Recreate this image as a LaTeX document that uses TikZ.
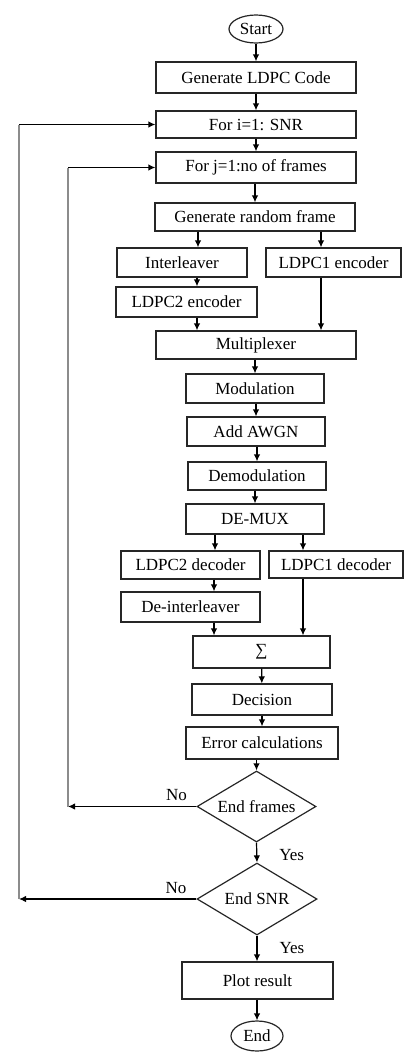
\documentclass[tikz,border=0pt]{standalone}
\usepackage{fontspec}
\setmainfont{Liberation Serif}
\usetikzlibrary{shapes.geometric,arrows.meta}
\begin{document}
\begin{tikzpicture}[x=1pt,y=-1pt,
  txt/.style={font=\fontsize{17}{20}\selectfont},
  procbox/.style={txt,draw=black!85,line width=1.2pt,rectangle,inner sep=0pt},
  termnode/.style={txt,draw=black!85,line width=1.2pt,ellipse,inner sep=0pt},
  decnode/.style={txt,draw=black!85,line width=1.2pt,diamond,inner sep=0pt,shape aspect=1.68},
  flowarr/.style={draw=black,line width=1.2pt,-{Latex[length=7pt,width=6.5pt]}},
  fbline/.style={draw=black!45,line width=1.3pt},
  lbl/.style={txt,inner sep=0pt}
]
\useasboundingbox (0,0) rectangle (404,1052);

% nodes
\node[termnode,minimum width=54pt,minimum height=28pt] (start) at (256,29) {Start};
\node[procbox,minimum width=200pt,minimum height=31pt] (gen) at (256,77.5) {Generate LDPC Code};
\node[procbox,minimum width=200pt,minimum height=27pt] (fori) at (256,124.5) {For i=1: SNR};
\node[procbox,minimum width=200pt,minimum height=31pt] (forj) at (256,167.5) {For j=1:no of frames};
\node[procbox,minimum width=200pt,minimum height=28pt] (grf) at (255,217) {Generate random frame};
\node[procbox,minimum width=130pt,minimum height=29pt] (inter) at (182,262.5) {Interleaver};
\node[procbox,minimum width=135pt,minimum height=29pt] (enc1) at (333.5,262.5) {LDPC1 encoder};
\node[procbox,minimum width=141pt,minimum height=30pt] (enc2) at (186.5,302) {LDPC2 encoder};
\node[procbox,minimum width=200pt,minimum height=28pt] (mux) at (256,345) {Multiplexer};
\node[procbox,minimum width=138pt,minimum height=29pt] (mod) at (255,388.5) {Modulation};
\node[procbox,minimum width=138pt,minimum height=29pt] (awgn) at (256,431.5) {Add AWGN};
\node[procbox,minimum width=138pt,minimum height=28pt] (demod) at (257,476) {Demodulation};
\node[procbox,minimum width=138pt,minimum height=30pt] (demux) at (255,519) {DE-MUX};
\node[procbox,minimum width=139pt,minimum height=28pt] (dec2) at (190.5,565) {LDPC2 decoder};
\node[procbox,minimum width=134pt,minimum height=27pt] (dec1) at (336,564.5) {LDPC1 decoder};
\node[procbox,minimum width=139pt,minimum height=30pt] (deint) at (190.5,607) {De-interleaver};
\node[procbox,minimum width=137pt,minimum height=32pt] (sum) at (261.5,652) {∑};
\node[procbox,minimum width=140pt,minimum height=31pt] (decis) at (262,699.5) {Decision};
\node[procbox,minimum width=152pt,minimum height=32pt] (err) at (262,743) {Error calculations};
\node[decnode,minimum width=119pt,minimum height=71pt] (d1) at (256.5,806.5) {End frames};
\node[decnode,minimum width=120pt,minimum height=72pt] (d2) at (257,899) {End SNR};
\node[procbox,minimum width=151pt,minimum height=37pt] (plot) at (257.5,980.5) {Plot result};
\node[termnode,minimum width=52pt,minimum height=30pt] (end) at (257,1036) {End};

% x positions of connectors
\coordinate (xa) at (198,0);
\coordinate (xb) at (321,0);
\coordinate (xc) at (197,0);
\coordinate (xd) at (215,0);
\coordinate (xe) at (303,0);
\coordinate (xf) at (214,0);
\coordinate (xin) at (68,0);
\coordinate (xout) at (19,0);

% main flow
\draw[flowarr] (start) -- (gen);
\draw[flowarr] (gen) -- (fori);
\draw[flowarr] (fori) -- (forj);
\draw[flowarr] (forj.south -| grf.north) -- (grf.north);
\draw[flowarr] (grf.south -| xa) -- (inter.north -| xa);
\draw[flowarr] (grf.south -| xb) -- (enc1.north -| xb);
\draw[flowarr] (inter.south -| xc) -- (enc2.north -| xc);
\draw[flowarr] (enc2.south -| xc) -- (mux.north -| xc);
\draw[flowarr] (enc1.south -| xb) -- (mux.north -| xb);
\draw[flowarr] (mux.south -| mod.north) -- (mod.north);
\draw[flowarr] (mod.south -| awgn.north) -- (awgn.north);
\draw[flowarr] (awgn.south -| demod.north) -- (demod.north);
\draw[flowarr] (demod.south -| demux.north) -- (demux.north);
\draw[flowarr] (demux.south -| xd) -- (dec2.north -| xd);
\draw[flowarr] (demux.south -| xe) -- (dec1.north -| xe);
\draw[flowarr] (dec2.south -| xf) -- (deint.north -| xf);
\draw[flowarr] (deint.south -| xf) -- (sum.north -| xf);
\draw[flowarr] (dec1.south -| xe) -- (sum.north -| xe);
\draw[flowarr] (sum) -- (decis);
\draw[flowarr] (decis) -- (err);
\draw[flowarr] (err.south -| d1.north) -- (d1.north);
\draw[flowarr] (d1.south) -- node[lbl,midway,right=22pt,yshift=-3pt] {Yes} (d2.north);
\draw[flowarr] (d2.south) -- node[lbl,midway,right=22pt] {Yes} (plot.north -| d2.south);
\draw[flowarr] (plot.south -| end.north) -- (end.north);

% feedback loops
\coordinate (fbin) at (d1.west -| xin);
\coordinate (fbout) at (d2.west -| xout);
\draw[flowarr] (d1.west) -- node[lbl,pos=0.155,above=5pt] {No} (fbin);
\draw[flowarr] (d2.west) -- node[lbl,pos=0.115,above=5pt] {No} (fbout);
\draw[fbline] (fbin) -- (fbin |- forj.west);
\draw[fbline] (fbout) -- (fbout |- fori.west);
\draw[flowarr] (fbin |- forj.west) -- (forj.west);
\draw[flowarr] (fbout |- fori.west) -- (fori.west);
\end{tikzpicture}
\end{document}
